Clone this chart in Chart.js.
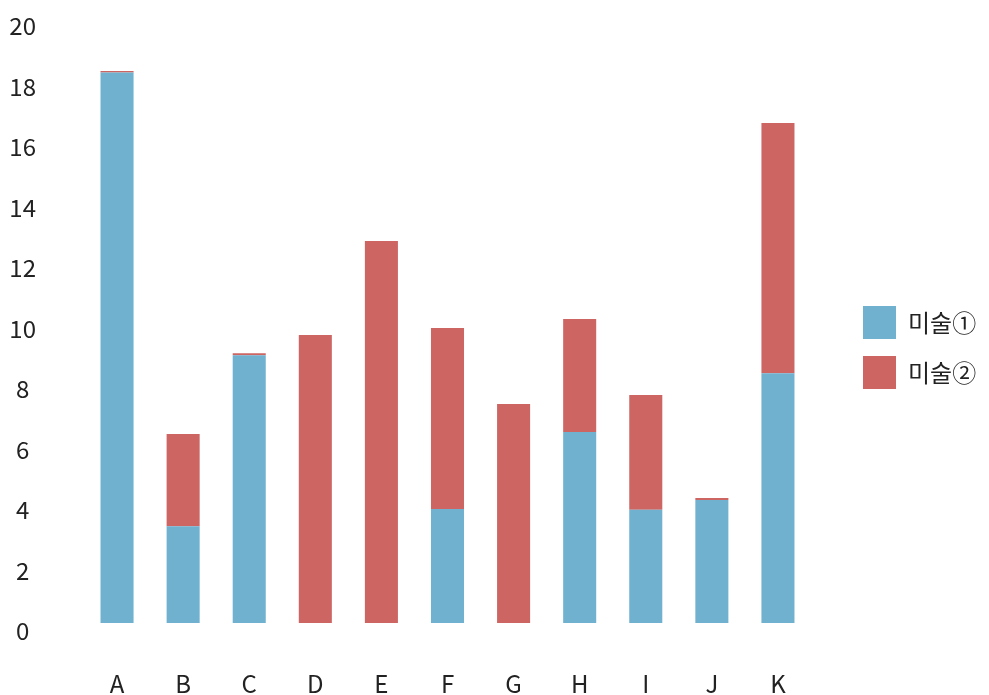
<!DOCTYPE html>
<html>
<head>
<meta charset="utf-8">
<script src="https://cdn.jsdelivr.net/npm/chart.js@4.4.0/dist/chart.umd.min.js"></script>
<style>
  html, body { margin: 0; padding: 0; background: #fff; }
  #wrap { width: 989px; height: 695px; }
</style>
</head>
<body>
<div id="wrap"><canvas id="chart" width="989" height="695"></canvas></div>
<script>
// ----- data -----
const categories = ['A', 'B', 'C', 'D', 'E', 'F', 'G', 'H', 'I', 'J', 'K'];
const seriesNames = ['미술①', '미술②'];
const art1 = [18.2, 3.2, 8.85, 0, 0, 3.77, 0, 6.31, 3.74, 4.07, 8.26];
const art2 = [0.05, 3.05, 0.07, 9.52, 12.63, 5.98, 7.24, 3.74, 3.8, 0.06, 8.27];
const yTicks = [0, 2, 4, 6, 8, 10, 12, 14, 16, 18, 20];

const FONT = "'Noto Sans CJK KR', 'Noto Sans', sans-serif";
const TEXT = '#222222';
const SIZE = 24;

// legend text width, so the legend lands where the reference puts it
const mctx = document.createElement('canvas').getContext('2d');
mctx.font = SIZE + 'px ' + FONT;
const legendTextW = Math.max(...seriesNames.map(s => mctx.measureText(s).width));

const ctx = document.getElementById('chart').getContext('2d');
new Chart(ctx, {
  type: 'bar',
  data: {
    labels: categories,
    datasets: [
      { label: seriesNames[0], data: art1, backgroundColor: '#70b1d0', borderWidth: 0 },
      { label: seriesNames[1], data: art2, backgroundColor: '#cd6563', borderWidth: 0 },
    ],
  },
  options: {
    responsive: false,
    animation: false,
    layout: { padding: { top: 0, right: Math.max(0, 71 - legendTextW), bottom: 0, left: 0 } },
    categoryPercentage: 1,
    barPercentage: 0.5,
    scales: {
      x: {
        stacked: true,
        grid: { display: false, drawTicks: false },
        border: { display: false },
        ticks: { color: TEXT, font: { family: FONT, size: SIZE }, padding: 46, maxRotation: 0 },
        afterFit: s => { s.height = 72; s.paddingLeft = 0; s.paddingRight = 0; },
      },
      y: {
        stacked: true,
        min: 0,
        max: 20,
        afterBuildTicks: s => { s.ticks = yTicks.map(v => ({ value: v })); },
        grid: { display: false, drawTicks: false },
        border: { display: false },
        ticks: {
          color: TEXT,
          font: { family: FONT, size: SIZE },
          crossAlign: 'center',
          padding: 48,
          labelOffset: 8,
        },
        afterFit: s => { s.width = 84; s.paddingTop = 18; s.paddingBottom = 0; },
      },
      // empty spacer between plot and legend
      gap: {
        type: 'linear',
        position: 'right',
        display: true,
        grid: { display: false, drawTicks: false },
        border: { display: false },
        ticks: { display: false },
        afterFit: s => { s.width = 35; s.paddingTop = 0; s.paddingBottom = 0; },
      },
    },
    plugins: {
      legend: {
        position: 'right',
        align: 'center',
        labels: {
          boxWidth: 33,
          boxHeight: 33,
          padding: 17,
          color: TEXT,
          font: { family: FONT, size: SIZE },
        },
      },
      tooltip: { enabled: false },
    },
  },
});
</script>
</body>
</html>
